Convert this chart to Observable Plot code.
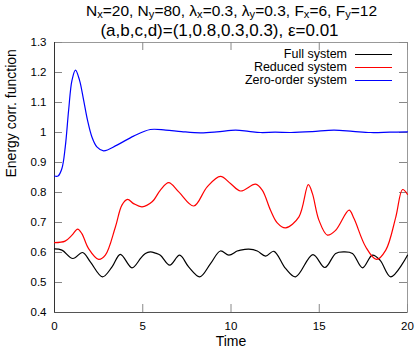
<!DOCTYPE html>
<html>
<head>
<meta charset="utf-8">
<script src="https://cdn.jsdelivr.net/npm/d3@7"></script>
<script src="https://cdn.jsdelivr.net/npm/@observablehq/plot@0.6"></script>
<style>
  html, body { margin: 0; padding: 0; background: #fff; }
  body { width: 415px; height: 350px; position: relative; overflow: hidden; font-family: "Liberation Sans", Arial, sans-serif; }
  #title { height: 36px; position: relative; color: #000; }
  #title .ln { position: absolute; width: 415px; text-align: center; white-space: nowrap; }
  #title .l1 { left: 24px; top: 3px; font-size: 15.5px; line-height: 16px; }
  #title .l2 { left: 12px; top: 22px; font-size: 17px; line-height: 17px; }
  #title sub { font-size: 0.72em; vertical-align: -0.2em; line-height: 0; }
  #legend { position: absolute; left: 0; top: 0; font-size: 12.5px; color: #000; }
  #legend .lab { position: absolute; line-height: 16px; text-align: right; white-space: nowrap; }
  #legend .sw { position: absolute; height: 0; }
</style>
</head>
<body>
<div id="title">
  <div class="ln l1">N<sub>x</sub>=20, N<sub>y</sub>=80, λ<sub>x</sub>=0.3, λ<sub>y</sub>=0.3, F<sub>x</sub>=6, F<sub>y</sub>=12</div>
  <div class="ln l2">(a,b,c,d)=(1,0.8,0.3,0.3), ε=0.01</div>
</div>
<div id="chart"></div>
<div id="legend"></div>
<script>
// ---- data ----
const seriesNames = ["Full system", "Reduced system", "Zero-order system"];
const seriesColors = ["#000000", "#ff0000", "#0000ff"];

const fullT = [0, 0.42, 1.04, 1.59, 2.03, 2.72, 3.26, 3.73, 4.39, 4.9, 5.15, 5.43, 5.72, 6.0, 6.53, 7.09, 7.6, 8.23, 8.84, 9.4, 9.88, 10.35, 10.54, 11.01, 11.49, 11.96, 12.43, 13.09, 13.66, 14.64, 15.32, 15.93, 16.4, 16.88, 17.45, 18.01, 18.45, 19.05, 20];
const fullV = [0.612, 0.608, 0.58, 0.6, 0.569, 0.519, 0.552, 0.594, 0.549, 0.582, 0.597, 0.602, 0.598, 0.591, 0.558, 0.591, 0.552, 0.519, 0.563, 0.605, 0.591, 0.605, 0.608, 0.611, 0.605, 0.588, 0.604, 0.547, 0.519, 0.593, 0.55, 0.597, 0.602, 0.597, 0.549, 0.591, 0.574, 0.519, 0.591];

const reducedT = [0, 0.6, 0.99, 1.31, 1.55, 1.93, 2.5, 2.88, 3.45, 3.82, 4.14, 4.48, 4.96, 5.53, 6.0, 6.47, 7.04, 7.89, 8.65, 9.4, 9.97, 10.54, 11.39, 11.77, 12.24, 12.62, 13.09, 13.85, 14.38, 14.61, 14.98, 15.46, 15.93, 16.69, 16.97, 17.63, 18.24, 18.77, 19.34, 19.72, 20];
const reducedV = [0.633, 0.638, 0.658, 0.678, 0.663, 0.613, 0.577, 0.591, 0.685, 0.758, 0.777, 0.763, 0.752, 0.769, 0.808, 0.833, 0.802, 0.755, 0.819, 0.854, 0.83, 0.805, 0.828, 0.808, 0.741, 0.699, 0.682, 0.719, 0.826, 0.797, 0.708, 0.658, 0.674, 0.741, 0.713, 0.619, 0.577, 0.608, 0.719, 0.81, 0.794];

const zeroT = [0, 0.2, 0.42, 0.61, 0.8, 0.99, 1.19, 1.42, 1.65, 1.87, 2.12, 2.4, 2.78, 3.54, 4.48, 5.43, 6.3, 7.2, 8.27, 9.2, 10.26, 11.0, 11.67, 12.5, 13.4, 14.6, 15.83, 16.9, 17.9, 19.0, 20];
const zeroV = [0.855, 0.855, 0.88, 0.952, 1.074, 1.174, 1.208, 1.174, 1.108, 1.041, 0.985, 0.952, 0.939, 0.958, 0.988, 1.01, 1.008, 1.003, 0.999, 1.002, 1.008, 1.004, 1.0, 1.001, 1.0, 1.003, 1.008, 1.004, 1.0, 1.001, 1.002];

const xTicks = [0, 5, 10, 15, 20];
const yTicks = [0.4, 0.5, 0.6, 0.7, 0.8, 0.9, 1, 1.1, 1.2, 1.3];
const xLabel = "Time";
const yLabel = "Energy corr. function";

// ---- build table ----
const seriesT = [fullT, reducedT, zeroT];
const seriesV = [fullV, reducedV, zeroV];
const rows = [];
seriesNames.forEach((name, k) => {
  seriesT[k].forEach((t, i) => rows.push({series: name, t, v: seriesV[k][i]}));
});

const W = 415, H = 314;
const mL = 54, mR = 8, mT = 6, mB = 38;
const innerH = H - mT - mB, innerW = W - mL - mR;
const tickLen = 8;
const font = "'Liberation Sans', Arial, sans-serif";

const chart = Plot.plot({
  width: W, height: H,
  marginLeft: mL, marginRight: mR, marginTop: mT, marginBottom: mB,
  style: {fontFamily: font, background: "#fff", color: "#000", overflow: "visible"},
  x: {domain: [xTicks[0], xTicks[xTicks.length - 1]]},
  y: {domain: [yTicks[0], yTicks[yTicks.length - 1]]},
  color: {domain: seriesNames, range: seriesColors},
  marks: [
    Plot.frame({stroke: "#999", strokeWidth: 1}),
    // inward ticks (bottom/top, left/right)
    Plot.ruleX(xTicks, {stroke: "#888", insetTop: innerH - tickLen}),
    Plot.ruleX(xTicks, {stroke: "#888", insetBottom: innerH - tickLen}),
    Plot.ruleY(yTicks, {stroke: "#888", insetRight: innerW - tickLen}),
    Plot.ruleY(yTicks, {stroke: "#888", insetLeft: innerW - tickLen}),
    Plot.ruleX([xTicks[0]], {stroke: "#333"}),
    Plot.ruleY([yTicks[0]], {stroke: "#555"}),
    Plot.axisX(xTicks, {tickSize: 0, tickPadding: 9, fontSize: 11.5, label: null}),
    Plot.axisY(yTicks, {tickSize: 0, tickPadding: 8, fontSize: 11.5, label: null, tickFormat: d => String(d)}),
    Plot.lineY(rows, {x: "t", y: "v", z: "series", stroke: "series", strokeWidth: 1.2, curve: "catmull-rom"}),
    Plot.text([yLabel], {frameAnchor: "left", dx: -43, rotate: -90, fontSize: 14, fill: "#000"}),
    Plot.text([xLabel], {frameAnchor: "bottom", dy: 24, lineAnchor: "top", fontSize: 14, fill: "#000"})
  ]
});
document.getElementById("chart").appendChild(chart);

// ---- legend (HTML overlay) ----
const legend = document.getElementById("legend");
const textRight = 347, swX1 = 355, swX2 = 392, rowY0 = 54, rowStep = 13;
seriesNames.forEach((name, k) => {
  const y = rowY0 + k * rowStep;
  const lab = document.createElement("div");
  lab.className = "lab";
  lab.style.right = (W - textRight) + "px";
  lab.style.top = (y - 8) + "px";
  lab.textContent = name;
  legend.appendChild(lab);
  const sw = document.createElement("div");
  sw.className = "sw";
  sw.style.left = swX1 + "px";
  sw.style.width = (swX2 - swX1) + "px";
  sw.style.top = y + "px";
  sw.style.borderTop = "1.2px solid " + seriesColors[k];
  legend.appendChild(sw);
});
legend.style.width = W + "px";
</script>
</body>
</html>
